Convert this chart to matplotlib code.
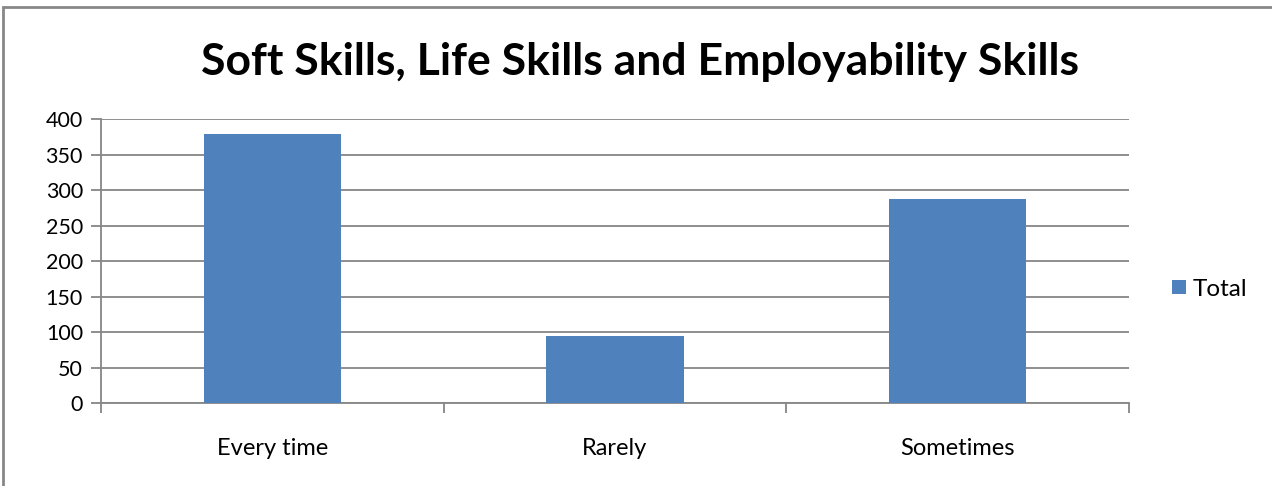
import matplotlib
matplotlib.use("Agg")
import matplotlib.pyplot as plt
from matplotlib.patches import Rectangle
import numpy as np

categories = ["Every time", "Rarely", "Sometimes"]
totals = [379, 95, 288]
yticks = [0, 50, 100, 150, 200, 250, 300, 350, 400]
title = "Soft Skills, Life Skills and Employability Skills"
series_name = "Total"

W, H = 1272, 486
fig = plt.figure(figsize=(W / 100, H / 100), dpi=100)
plt.rcParams['font.family'] = ['Lato', 'DejaVu Sans']

# outer chart border
fig.patches.append(Rectangle((3 / W, -0.1), 1.2, 1 - 7 / H + 0.1, transform=fig.transFigure,
                             fill=False, edgecolor="#878787", linewidth=2, zorder=0))

ax = fig.add_axes([101 / W, 1 - 403.3 / H, 1028 / W, 284 / H])
x = np.arange(len(categories))
bars = ax.bar(x, totals, width=0.4, color="#4F81BD", label=series_name, zorder=3)
ax.set_xlim(-0.5, len(categories) - 0.5)
ax.set_ylim(0, 400)
ax.set_yticks(yticks)
ax.set_yticklabels([str(v) for v in yticks], fontsize=15.5)
ax.yaxis.grid(True, color="#868686", linewidth=1.3, zorder=0)
ax.set_axisbelow(True)

# x ticks at category boundaries, labels at centers
ax.set_xticks(np.arange(-0.5, len(categories), 1.0))
ax.set_xticklabels([])
ax.set_xticks(x, minor=True)
ax.set_xticklabels(categories, minor=True, fontsize=17)
ax.tick_params(axis="x", which="minor", length=0, pad=25)
ax.tick_params(axis="x", which="major", length=7, color="#868686", width=1.3, direction="out")
ax.tick_params(axis="y", length=7, color="#868686", width=1.3, direction="out", pad=6)

for s in ["top", "right"]:
    ax.spines[s].set_visible(False)
for s in ["left", "bottom"]:
    ax.spines[s].set_color("#868686")
    ax.spines[s].set_linewidth(1.3)

fig.text(640 / W, 1 - 62 / H, title, ha="center", va="center", fontsize=32, fontweight="bold")

leg = fig.legend(handles=[bars], labels=[series_name], loc="center left",
                 bbox_to_anchor=(1160 / W, 1 - 289 / H), frameon=False, fontsize=17.5,
                 handlelength=0.55, handleheight=0.55, handletextpad=0.3, borderpad=0)

fig.savefig("out.png", dpi=100, facecolor="white")
